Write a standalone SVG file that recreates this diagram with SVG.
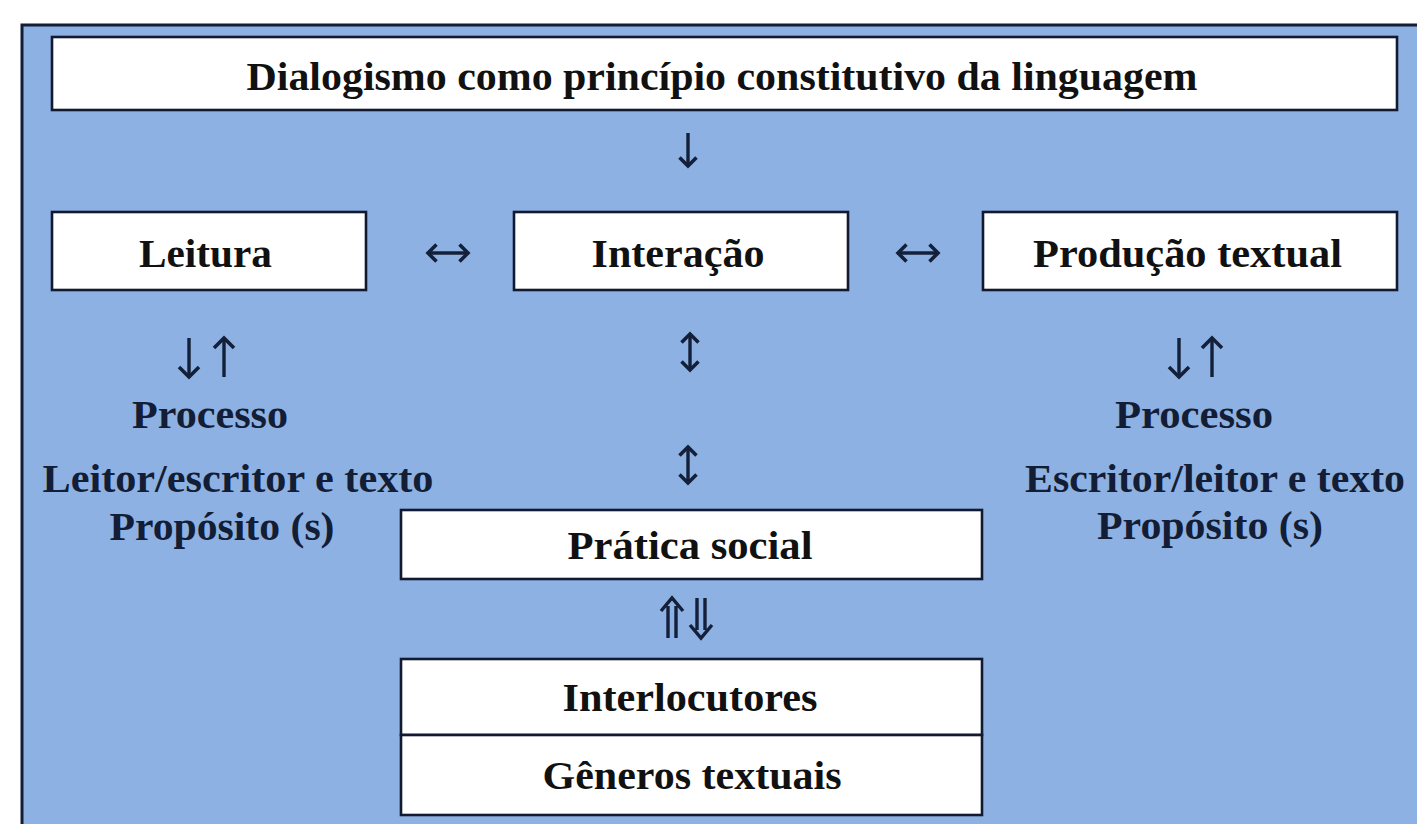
<svg xmlns="http://www.w3.org/2000/svg" width="1417" height="824" viewBox="0 0 1417 824">
<style>
.bg{fill:#8db1e2;stroke:#131d33;stroke-width:3}
.box{fill:#ffffff;stroke:#111a30;stroke-width:2.6}
.t{font-family:"Liberation Serif","Times New Roman",serif;font-weight:bold;font-size:41px;text-anchor:middle;fill:#111111}
.tb{font-family:"Liberation Serif","Times New Roman",serif;font-weight:bold;font-size:41px;text-anchor:middle;fill:#131d35}
.c{fill:none;stroke:#142039;stroke-width:3.4}
</style>
<defs>
<marker id="ah" markerUnits="userSpaceOnUse" markerWidth="24" markerHeight="24" viewBox="-12 -12 24 24" refX="0" refY="0" orient="auto-start-reverse">
<path d="M-8.5,-8.5 L0,0 L-8.5,8.5" fill="none" stroke="#142039" stroke-width="3.6"/>
</marker>
<marker id="ahL" markerUnits="userSpaceOnUse" markerWidth="28" markerHeight="28" viewBox="-14 -14 28 28" refX="0" refY="0" orient="auto-start-reverse">
<path d="M-10,-10 L0,0 L-10,10" fill="none" stroke="#142039" stroke-width="3.6"/>
</marker>
</defs>
<rect width="1417" height="824" fill="#ffffff"/>
<rect class="bg" x="22" y="25" width="1420" height="820"/>

<g id="connectors">
<path class="c" d="M688,133 V166" marker-end="url(#ah)"/>
<path class="c" d="M428,253 H468" marker-start="url(#ah)" marker-end="url(#ah)"/>
<path class="c" d="M898,253 H938" marker-start="url(#ah)" marker-end="url(#ah)"/>
<path class="c" d="M189,338 V377" marker-end="url(#ahL)"/>
<path class="c" d="M224,377 V338" marker-end="url(#ahL)"/>
<path class="c" d="M1179,338 V377" marker-end="url(#ahL)"/>
<path class="c" d="M1212,377 V338" marker-end="url(#ahL)"/>
<path class="c" d="M690,334 V370" marker-start="url(#ah)" marker-end="url(#ah)"/>
<path class="c" d="M688,447 V483" marker-start="url(#ah)" marker-end="url(#ah)"/>
<path class="c" d="M668,606 V638 M676,606 V638 M661,611 L672,598 L683,611"/>
<path class="c" d="M697,598 V630 M705,598 V630 M690,625 L701,638 L712,625"/>
</g>

<g id="node-dialogismo">
<rect class="box" x="52" y="37" width="1345" height="73"/>
<text class="t" x="722" y="90" textLength="951" lengthAdjust="spacingAndGlyphs">Dialogismo como princípio constitutivo da linguagem</text>
</g>
<g id="node-leitura">
<rect class="box" x="52" y="212" width="314" height="78"/>
<text class="t" x="205.5" y="267" textLength="133" lengthAdjust="spacingAndGlyphs">Leitura</text>
</g>
<g id="node-interacao">
<rect class="box" x="514" y="212" width="334" height="78"/>
<text class="t" x="678" y="267" textLength="173" lengthAdjust="spacingAndGlyphs">Interação</text>
</g>
<g id="node-producao">
<rect class="box" x="983" y="212" width="414" height="78"/>
<text class="t" x="1187.5" y="267" textLength="309" lengthAdjust="spacingAndGlyphs">Produção textual</text>
</g>
<g id="node-leitura-processo">
<text class="tb" x="210" y="428" textLength="156" lengthAdjust="spacingAndGlyphs">Processo</text>
<text class="tb" x="238" y="492" textLength="391" lengthAdjust="spacingAndGlyphs">Leitor/escritor e texto</text>
<text class="tb" x="222" y="540" textLength="225" lengthAdjust="spacingAndGlyphs">Propósito (s)</text>
</g>
<g id="node-producao-processo">
<text class="tb" x="1194" y="428" textLength="158" lengthAdjust="spacingAndGlyphs">Processo</text>
<text class="tb" x="1215" y="492" textLength="380" lengthAdjust="spacingAndGlyphs">Escritor/leitor e texto</text>
<text class="tb" x="1210" y="539" textLength="226" lengthAdjust="spacingAndGlyphs">Propósito (s)</text>
</g>
<g id="node-pratica">
<rect class="box" x="401" y="510" width="581" height="69"/>
<text class="t" x="690" y="559" textLength="245" lengthAdjust="spacingAndGlyphs">Prática social</text>
</g>
<g id="node-interlocutores">
<rect class="box" x="401" y="659" width="581" height="76"/>
<text class="t" x="690" y="711" textLength="255" lengthAdjust="spacingAndGlyphs">Interlocutores</text>
</g>
<g id="node-generos">
<rect class="box" x="401" y="735" width="581" height="80"/>
<text class="t" x="692" y="789" textLength="299" lengthAdjust="spacingAndGlyphs">Gêneros textuais</text>
</g>
</svg>
